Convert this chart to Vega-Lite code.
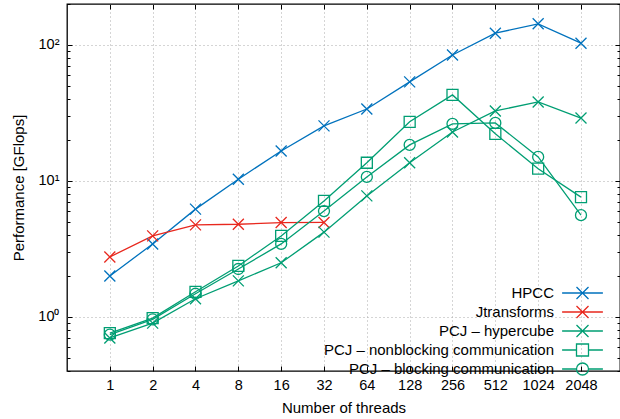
{
  "$schema": "https://vega.github.io/schema/vega-lite/v6.json",
  "width": 553,
  "height": 367,
  "autosize": {"type": "none"},
  "padding": {"left": 67, "top": 4, "right": 0, "bottom": 48},
  "config": {
    "font": "Liberation Sans",
    "view": {"stroke": "#000", "strokeWidth": 1.3},
    "axis": {
      "labelFont": "Liberation Sans", "labelFontSize": 14.5, "labelColor": "#000",
      "titleFont": "Liberation Sans", "titleFontSize": 15, "titleColor": "#000", "titleFontWeight": "normal",
      "domain": false, "tickColor": "#000", "tickWidth": 1,
      "gridColor": "#aaaaaa", "gridDash": [1, 3], "gridWidth": 1, "gridOpacity": 1
    },
    "legend": {"labelFont": "Liberation Sans", "labelFontSize": 15, "labelColor": "#000", "labelLimit": 400, "padding": 0}
  },
  "data": {"values": [
    {"t":1,"p":2.0,"s":"HPCC"},{"t":2,"p":3.44,"s":"HPCC"},{"t":4,"p":6.2,"s":"HPCC"},{"t":8,"p":10.3,"s":"HPCC"},{"t":16,"p":16.6,"s":"HPCC"},{"t":32,"p":25.4,"s":"HPCC"},{"t":64,"p":33.8,"s":"HPCC"},{"t":128,"p":53.5,"s":"HPCC"},{"t":256,"p":84.4,"s":"HPCC"},{"t":512,"p":122,"s":"HPCC"},{"t":1024,"p":143,"s":"HPCC"},{"t":2048,"p":103,"s":"HPCC"},
    {"t":1,"p":2.76,"s":"Jtransforms"},{"t":2,"p":3.94,"s":"Jtransforms"},{"t":4,"p":4.75,"s":"Jtransforms"},{"t":8,"p":4.8,"s":"Jtransforms"},{"t":16,"p":4.94,"s":"Jtransforms"},{"t":32,"p":4.95,"s":"Jtransforms"},
    {"t":1,"p":0.70,"s":"PCJ – hypercube"},{"t":2,"p":0.90,"s":"PCJ – hypercube"},{"t":4,"p":1.36,"s":"PCJ – hypercube"},{"t":8,"p":1.84,"s":"PCJ – hypercube"},{"t":16,"p":2.5,"s":"PCJ – hypercube"},{"t":32,"p":4.2,"s":"PCJ – hypercube"},{"t":64,"p":7.76,"s":"PCJ – hypercube"},{"t":128,"p":13.6,"s":"PCJ – hypercube"},{"t":256,"p":22.9,"s":"PCJ – hypercube"},{"t":512,"p":32.7,"s":"PCJ – hypercube"},{"t":1024,"p":38.1,"s":"PCJ – hypercube"},{"t":2048,"p":29.0,"s":"PCJ – hypercube"},
    {"t":1,"p":0.76,"s":"PCJ – nonblocking communication"},{"t":2,"p":0.98,"s":"PCJ – nonblocking communication"},{"t":4,"p":1.53,"s":"PCJ – nonblocking communication"},{"t":8,"p":2.37,"s":"PCJ – nonblocking communication"},{"t":16,"p":3.94,"s":"PCJ – nonblocking communication"},{"t":32,"p":7.13,"s":"PCJ – nonblocking communication"},{"t":64,"p":13.6,"s":"PCJ – nonblocking communication"},{"t":128,"p":27.2,"s":"PCJ – nonblocking communication"},{"t":256,"p":42.9,"s":"PCJ – nonblocking communication"},{"t":512,"p":22.2,"s":"PCJ – nonblocking communication"},{"t":1024,"p":12.3,"s":"PCJ – nonblocking communication"},{"t":2048,"p":7.6,"s":"PCJ – nonblocking communication"},
    {"t":1,"p":0.74,"s":"PCJ – blocking communication"},{"t":2,"p":0.96,"s":"PCJ – blocking communication"},{"t":4,"p":1.48,"s":"PCJ – blocking communication"},{"t":8,"p":2.25,"s":"PCJ – blocking communication"},{"t":16,"p":3.44,"s":"PCJ – blocking communication"},{"t":32,"p":6.0,"s":"PCJ – blocking communication"},{"t":64,"p":10.7,"s":"PCJ – blocking communication"},{"t":128,"p":18.4,"s":"PCJ – blocking communication"},{"t":256,"p":26.3,"s":"PCJ – blocking communication"},{"t":512,"p":26.7,"s":"PCJ – blocking communication"},{"t":1024,"p":15.0,"s":"PCJ – blocking communication"},{"t":2048,"p":5.6,"s":"PCJ – blocking communication"}
  ]},
  "resolve": {"axis": {"x": "independent", "y": "independent"}, "scale": {"shape": "independent", "color": "independent"}},
  "layer": [
    {
      "mark": {"type": "line", "strokeWidth": 1.3},
      "encoding": {
        "x": {"field": "t", "type": "quantitative",
          "scale": {"type": "log", "base": 2, "domain": [0.5, 3850], "nice": false},
          "axis": {"orient": "bottom", "values": [1,2,4,8,16,32,64,128,256,512,1024,2048], "format": "d", "grid": true, "tickSize": -5, "labelPadding": 12, "title": "Number of threads", "titlePadding": 9}},
        "y": {"field": "p", "type": "quantitative",
          "scale": {"type": "log", "domain": [0.4, 200], "nice": false},
          "axis": {"orient": "left", "values": [1, 10, 100], "grid": true, "tickSize": -5, "labelPadding": 13, "labelExpr": "datum.value == 100 ? '10²' : datum.value == 10 ? '10¹' : '10⁰'", "title": "Performance [GFlops]", "titlePadding": 11}},
        "color": {"field": "s", "type": "nominal", "legend": null,
          "scale": {"domain": ["HPCC", "Jtransforms", "PCJ – hypercube", "PCJ – nonblocking communication", "PCJ – blocking communication"], "range": ["#0072bd", "#e8281e", "#009e73", "#009e73", "#009e73"]}}
      }
    },
    {
      "mark": {"type": "point", "filled": false, "size": 121, "strokeWidth": 1.3, "opacity": 1},
      "encoding": {
        "x": {"field": "t", "type": "quantitative",
          "axis": {"orient": "top", "values": [1,2,4,8,16,32,64,128,256,512,1024,2048], "labels": false, "grid": false, "tickSize": -5, "title": null}},
        "y": {"field": "p", "type": "quantitative",
          "axis": {"orient": "right", "values": [1, 10, 100], "labels": false, "grid": false, "tickSize": -5, "title": null}},
        "color": {"field": "s", "type": "nominal", "legend": null,
          "scale": {"domain": ["HPCC", "Jtransforms", "PCJ – hypercube", "PCJ – nonblocking communication", "PCJ – blocking communication"], "range": ["#0072bd", "#e8281e", "#009e73", "#009e73", "#009e73"]}},
        "shape": {"field": "s", "type": "nominal", "legend": null,
          "scale": {"domain": ["HPCC", "Jtransforms", "PCJ – hypercube", "PCJ – nonblocking communication", "PCJ – blocking communication"], "range": ["M-1,-1L1,1M-1,1L1,-1", "M-1,-1L1,1M-1,1L1,-1", "M-1,-1L1,1M-1,1L1,-1", "M-1,-1H1V1H-1Z", "circle"]}}
      }
    },
    {
      "mark": {"type": "point", "opacity": 0},
      "encoding": {
        "x": {"field": "t", "type": "quantitative", "axis": null},
        "y": {"field": "p", "type": "quantitative",
          "axis": {"orient": "left", "values": [0.4,0.5,0.6,0.7,0.8,0.9,2,3,4,5,6,7,8,9,20,30,40,50,60,70,80,90,200], "labels": false, "grid": false, "tickSize": -3, "title": null}}
      }
    },
    {
      "mark": {"type": "point", "opacity": 0},
      "encoding": {
        "x": {"field": "t", "type": "quantitative", "axis": null},
        "y": {"field": "p", "type": "quantitative",
          "axis": {"orient": "right", "values": [0.4,0.5,0.6,0.7,0.8,0.9,2,3,4,5,6,7,8,9,20,30,40,50,60,70,80,90,200], "labels": false, "grid": false, "tickSize": -3, "title": null}}
      }
    },
    {
      "transform": [{"filter": "datum.t < 0"}],
      "mark": {"type": "point", "filled": false, "strokeWidth": 1.3},
      "encoding": {
        "x": {"field": "t", "type": "quantitative", "axis": null},
        "y": {"field": "p", "type": "quantitative", "axis": null},
        "color": {"field": "s", "type": "nominal",
          "scale": {"domain": ["HPCC", "Jtransforms", "PCJ – hypercube", "PCJ – nonblocking communication", "PCJ – blocking communication"], "range": ["#0072bd", "#e8281e", "#009e73", "#009e73", "#009e73"]},
          "legend": {"orient": "none", "legendX": 508, "legendY": 281.5, "title": null, "labelAlign": "right", "labelOffset": -36, "symbolSize": 144, "symbolStrokeWidth": 1.3, "symbolOpacity": 1, "symbolFillColor": "transparent", "rowPadding": 0, "padding": 0}},
        "shape": {"field": "s", "type": "nominal",
          "scale": {"domain": ["HPCC", "Jtransforms", "PCJ – hypercube", "PCJ – nonblocking communication", "PCJ – blocking communication"], "range": ["M-3.4,0H3.4M-1,-1L1,1M-1,1L1,-1", "M-3.4,0H3.4M-1,-1L1,1M-1,1L1,-1", "M-3.4,0H3.4M-1,-1L1,1M-1,1L1,-1", "M-3.4,0H-1M1,0H3.4M-1,-1H1V1H-1Z", "M-3.4,0H-1M1,0H3.4M1,0A1,1,0,1,1,-1,0A1,1,0,1,1,1,0"]},
          "legend": {"orient": "none", "legendX": 508, "legendY": 281.5, "title": null, "labelAlign": "right", "labelOffset": -36, "symbolSize": 144, "symbolStrokeWidth": 1.3, "symbolOpacity": 1, "symbolFillColor": "transparent", "rowPadding": 0, "padding": 0}}
      }
    }
  ]
}
